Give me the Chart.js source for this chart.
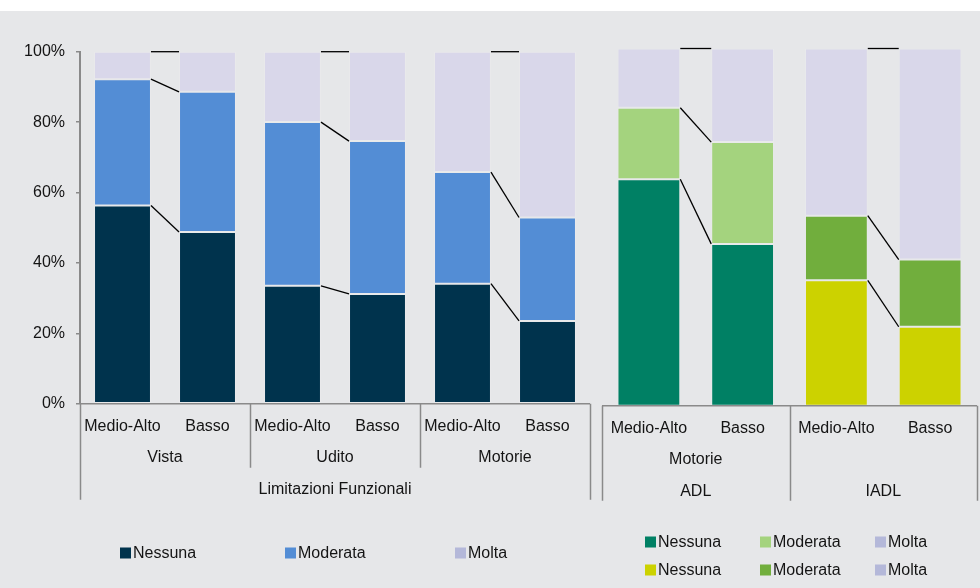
<!DOCTYPE html>
<html>
<head>
<meta charset="utf-8">
<script src="https://cdn.jsdelivr.net/npm/chart.js@4.4.1/dist/chart.umd.min.js"></script>
<style>
  html, body { margin: 0; padding: 0; }
  body { width: 980px; height: 588px; background: #fff; position: relative; overflow: hidden; }
  #bg { position: absolute; left: 0; top: 11px; width: 980px; height: 577px; background: #e6e7e9; }
  canvas { position: absolute; top: 0; }
  #left { left: 0; }
  #right { left: 600px; }
</style>
</head>
<body>
<div id="bg"></div>
<canvas id="left" width="600" height="588"></canvas>
<canvas id="right" width="380" height="588"></canvas>
<script>
// --- Limitazioni funzionali (percentuali) ---
const levelsLim = ['Medio-Alto', 'Basso', 'Medio-Alto', 'Basso', 'Medio-Alto', 'Basso'];
const groupsLim = ['Vista', 'Udito', 'Motorie'];
const titleLim = 'Limitazioni Funzionali';
const nessunaLim = [56.3, 48.8, 33.5, 31.2, 34.1, 23.5];
const moderataLim = [35.9, 39.8, 46.5, 43.4, 31.7, 29.4];
const moltaLim = [7.8, 11.4, 20.0, 25.4, 34.2, 47.1];

// --- ADL / IADL (percentuali) ---
const levelsAdl = ['Medio-Alto', 'Basso', 'Medio-Alto', 'Basso'];
const groupsAdl = ['ADL', 'IADL'];
const subAdl = ['Motorie', ''];
const nessunaAdl = [63.4, 45.3, 35.1, 22.1];
const moderataAdl = [20.0, 28.5, 18.1, 18.8];
const moltaAdl = [16.6, 26.2, 46.8, 59.1];

const yTicks = [0, 20, 40, 60, 80, 100];
const seriesNames = ['Nessuna', 'Moderata', 'Molta'];

const FONT = '16px "Liberation Sans", Arial, sans-serif';
const TEXT = '#141414';
const AXIS = '#8a8a8a';

// lines joining the top of each segment across a Medio-Alto / Basso pair
const pairLinks = {
  id: 'pairLinks',
  afterDatasetsDraw(chart) {
    const ctx = chart.ctx;
    ctx.save();
    ctx.strokeStyle = '#000';
    ctx.lineWidth = 1.3;
    chart.data.datasets.forEach((ds, d) => {
      const bars = chart.getDatasetMeta(d).data;
      for (let i = 0; i + 1 < bars.length; i += 2) {
        const a = bars[i], b = bars[i + 1];
        ctx.beginPath();
        ctx.moveTo(a.x + a.width / 2, a.y);
        ctx.lineTo(b.x - b.width / 2, b.y);
        ctx.stroke();
      }
    });
    ctx.restore();
  }
};

// two/three level category axis under the bars
const groupAxis = {
  id: 'groupAxis',
  afterDraw(chart, args, opts) {
    const ctx = chart.ctx;
    const area = chart.chartArea;
    const x = chart.scales.x;
    const n = chart.data.labels.length;
    const step = (area.right - area.left) / n;
    const per = n / opts.groups.length;
    const base = area.bottom;
    ctx.save();
    ctx.strokeStyle = AXIS;
    ctx.lineWidth = 1.5;
    ctx.beginPath();
    ctx.moveTo(area.left, base);
    ctx.lineTo(area.right, base);
    for (let g = 0; g <= opts.groups.length; g++) {
      const gx = Math.round(area.left + g * per * step) + 0.5;
      const outer = g === 0 || g === opts.groups.length;
      ctx.moveTo(gx, base);
      ctx.lineTo(gx, base + (outer ? opts.outerDrop : opts.innerDrop));
    }
    ctx.stroke();

    ctx.fillStyle = TEXT;
    ctx.font = FONT;
    ctx.textAlign = 'center';
    ctx.textBaseline = 'middle';
    chart.data.labels.forEach((lab, i) => {
      ctx.fillText(lab, x.getPixelForValue(i), base + opts.rows[0]);
    });
    opts.groups.forEach((g, k) => {
      const cx = area.left + (k + 0.5) * per * step;
      if (opts.sub && opts.sub[k]) {
        ctx.fillText(opts.sub[k], cx, base + opts.rows[1]);
        ctx.fillText(g, cx, base + opts.rows[2]);
      } else if (opts.sub) {
        ctx.fillText(g, cx, base + opts.rows[2]);
      } else {
        ctx.fillText(g, cx, base + opts.rows[1]);
      }
    });
    if (opts.title) {
      ctx.fillText(opts.title, (area.left + area.right) / 2, base + opts.rows[2]);
    }
    ctx.restore();
  }
};

// square swatch legend
const swatchLegend = {
  id: 'swatchLegend',
  afterDraw(chart, args, opts) {
    const ctx = chart.ctx;
    ctx.save();
    ctx.font = FONT;
    ctx.textAlign = 'left';
    ctx.textBaseline = 'middle';
    opts.rows.forEach((row) => {
      row.colors.forEach((c, i) => {
        const bx = opts.xs[i];
        ctx.fillStyle = c;
        ctx.fillRect(bx, row.y - 5.5, 11, 11);
        ctx.fillStyle = TEXT;
        ctx.fillText(seriesNames[i], bx + 13, row.y + 1);
      });
    });
    ctx.restore();
  }
};

function barSet(label, data, color) {
  return {
    label: label,
    data: data,
    backgroundColor: color,
    borderColor: 'rgba(255,255,255,0.12)',
    borderWidth: 1,
    borderSkipped: false,
    barPercentage: 0.67,
    categoryPercentage: 1.0
  };
}

const NAVY = '#00334d';
const BLUE = '#538dd5';
const LAV = '#d9d7ea';
const LAV_KEY = '#b4b8d9';
const TEAL = '#008064';
const LGREEN = '#a4d37e';
const YELLOW = '#ccd200';
const GREEN = '#71ae3d';

new Chart(document.getElementById('left'), {
  type: 'bar',
  data: {
    labels: levelsLim,
    datasets: [
      barSet('Nessuna', nessunaLim, NAVY),
      barSet('Moderata', moderataLim, BLUE),
      barSet('Molta', moltaLim, LAV)
    ]
  },
  options: {
    responsive: false,
    animation: false,
    devicePixelRatio: 1,
    layout: { padding: { top: 51.7, right: 10, bottom: 184.3, left: 0 } },
    scales: {
      x: { stacked: true, display: false },
      y: {
        stacked: true,
        min: 0,
        max: 100,
        afterBuildTicks: (s) => { s.ticks = yTicks.map(v => ({ value: v })); },
        afterFit: (s) => { s.width = 80; },
        ticks: {
          callback: (v) => v + '%',
          color: TEXT,
          font: { family: '"Liberation Sans", Arial, sans-serif', size: 16 },
          padding: 11
        },
        grid: { drawOnChartArea: false, drawTicks: true, tickLength: 4, color: AXIS, lineWidth: 1.5 },
        border: { color: AXIS, width: 2 }
      }
    },
    plugins: {
      legend: { display: false },
      tooltip: { enabled: false },
      groupAxis: {
        groups: groupsLim,
        title: titleLim,
        rows: [22.5, 54, 86],
        outerDrop: 96,
        innerDrop: 64
      },
      swatchLegend: {
        xs: [120, 285, 455],
        rows: [{ y: 553, colors: [NAVY, BLUE, LAV_KEY] }]
      }
    }
  },
  plugins: [pairLinks, groupAxis, swatchLegend]
});

new Chart(document.getElementById('right'), {
  type: 'bar',
  data: {
    labels: levelsAdl,
    datasets: [
      barSet('Nessuna', nessunaAdl, [TEAL, TEAL, YELLOW, YELLOW]),
      barSet('Moderata', moderataAdl, [LGREEN, LGREEN, GREEN, GREEN]),
      barSet('Molta', moltaAdl, LAV)
    ]
  },
  options: {
    responsive: false,
    animation: false,
    devicePixelRatio: 1,
    layout: { padding: { top: 48.5, right: 3, bottom: 182.3, left: 2 } },
    scales: {
      x: { stacked: true, display: false },
      y: { stacked: true, min: 0, max: 100, display: false }
    },
    plugins: {
      legend: { display: false },
      tooltip: { enabled: false },
      groupAxis: {
        groups: groupsAdl,
        sub: subAdl,
        rows: [22.5, 53.5, 86],
        outerDrop: 95,
        innerDrop: 95
      },
      swatchLegend: {
        xs: [45, 160, 275],
        rows: [
          { y: 542, colors: [TEAL, LGREEN, LAV_KEY] },
          { y: 570, colors: [YELLOW, GREEN, LAV_KEY] }
        ]
      }
    }
  },
  plugins: [pairLinks, groupAxis, swatchLegend]
});
</script>
</body>
</html>
